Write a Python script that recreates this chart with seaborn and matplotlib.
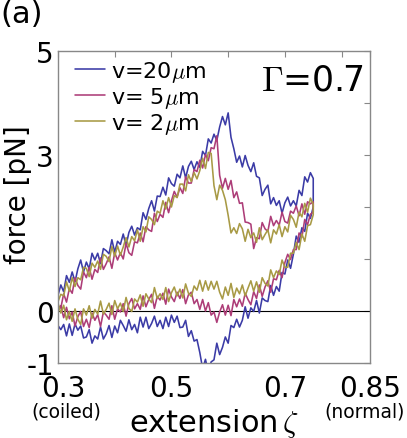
import matplotlib
matplotlib.use("Agg")
import matplotlib.pyplot as plt
import matplotlib.transforms as mtransforms
import seaborn as sns
import pandas as pd

sns.set_style("white")
plt.rcParams["font.family"] = ["DejaVu Sans"]
plt.rcParams["mathtext.fontset"] = "cm"
plt.rcParams["text.color"] = "black"

# extension grid of the outward sweep; the return sweep runs back over it
zeta = [0.300, 0.305, 0.310, 0.315, 0.320, 0.325, 0.330, 0.335, 0.340, 0.345,
        0.350, 0.355, 0.360, 0.365, 0.370, 0.375, 0.380, 0.385, 0.390, 0.395,
        0.400, 0.405, 0.410, 0.415, 0.420, 0.425, 0.430, 0.435, 0.440, 0.445,
        0.450, 0.455, 0.460, 0.465, 0.470, 0.475, 0.480, 0.485, 0.490, 0.495,
        0.500, 0.505, 0.510, 0.515, 0.520, 0.525, 0.530, 0.535, 0.540, 0.545,
        0.550, 0.555, 0.560, 0.565, 0.570, 0.575, 0.580, 0.585, 0.590, 0.595,
        0.600, 0.605, 0.610, 0.615, 0.620, 0.625, 0.630, 0.635, 0.640, 0.645,
        0.650, 0.655, 0.660, 0.665, 0.670, 0.675, 0.680, 0.685, 0.690, 0.695,
        0.700, 0.705, 0.710, 0.715, 0.720, 0.725, 0.730, 0.735, 0.740, 0.745,
        0.750]

# v = 20 um: outward (0.30 -> 0.75) and return (0.75 -> 0.30)
f20_out = [0.30, 0.50, 0.37, 0.68, 0.55, 0.75, 0.56, 0.81, 0.98, 0.75,
           0.94, 0.81, 1.11, 0.98, 1.11, 0.91, 1.20, 1.16, 1.10, 1.37,
           1.13, 1.34, 1.28, 1.48, 1.26, 1.51, 1.63, 1.46, 1.60, 1.56,
           1.89, 1.76, 1.97, 2.12, 1.92, 2.21, 2.20, 2.38, 2.23, 2.56,
           2.45, 2.40, 2.63, 2.56, 2.79, 2.56, 2.78, 2.88, 2.72, 2.87,
           2.76, 3.07, 2.99, 3.31, 3.23, 3.40, 3.28, 3.54, 3.74, 3.58,
           3.81, 3.34, 3.12, 2.86, 2.98, 2.77, 2.99, 2.80, 2.68, 2.85,
           2.59, 2.56, 2.22, 2.34, 2.42, 2.06, 2.18, 2.03, 2.12, 1.88,
           2.08, 2.19, 2.02, 2.12, 2.02, 2.32, 2.22, 2.58, 2.48, 2.66,
           2.55]
f20_back = [2.00, 1.78, 1.88, 1.53, 1.60, 1.32, 1.44, 1.09, 0.82, 0.98,
            0.71, 0.74, 0.38, 0.47, 0.30, 0.49, 0.18, 0.20, 0.25, -0.04,
            0.20, -0.01, 0.06, -0.14, 0.08, -0.18, -0.31, -0.16, -0.32, -0.28,
            -0.62, -0.50, -0.70, -0.84, -0.62, -0.94, -0.98, -1.18, -0.93, -1.11,
            -0.80, -0.55, -0.58, -0.38, -0.49, -0.18, -0.31, -0.32, -0.10, -0.22,
            -0.08, -0.30, -0.12, -0.34, -0.18, -0.30, -0.10, -0.24, -0.34, -0.12,
            -0.31, -0.12, -0.42, -0.26, -0.36, -0.17, -0.39, -0.28, -0.18, -0.42,
            -0.29, -0.51, -0.28, -0.44, -0.54, -0.31, -0.54, -0.48, -0.62, -0.36,
            -0.50, -0.52, -0.29, -0.37, -0.25, -0.47, -0.25, -0.48, -0.26, -0.36,
            -0.28]

# v = 5 um
f5_out = [0.10, 0.06, 0.33, 0.17, 0.43, 0.34, 0.64, 0.49, 0.42, 0.75,
          0.64, 0.84, 0.61, 0.80, 0.74, 1.02, 0.80, 0.91, 1.04, 0.82,
          1.12, 0.98, 1.12, 1.00, 1.30, 1.12, 1.07, 1.33, 1.31, 1.50,
          1.33, 1.62, 1.56, 1.53, 1.88, 1.72, 1.86, 1.80, 2.09, 1.89,
          2.12, 2.30, 2.19, 2.37, 2.26, 2.58, 2.46, 2.46, 2.72, 2.68,
          2.90, 2.75, 3.01, 2.89, 3.14, 3.12, 3.37, 2.61, 2.36, 2.55,
          2.34, 2.51, 2.18, 2.29, 2.07, 2.08, 1.71, 1.70, 1.67, 1.20,
          1.41, 1.39, 1.70, 1.58, 1.53, 1.82, 1.64, 1.74, 1.65, 1.90,
          1.72, 1.69, 1.92, 1.88, 2.02, 1.83, 2.06, 1.86, 2.10, 2.06,
          2.10]
f5_back = [1.90, 1.86, 1.66, 1.76, 1.42, 1.50, 1.18, 1.18, 0.99, 1.09,
           0.93, 0.64, 0.78, 0.60, 0.62, 0.36, 0.58, 0.46, 0.28, 0.50,
           0.24, 0.37, 0.12, 0.22, 0.34, 0.09, 0.23, 0.08, 0.22, -0.09,
           0.11, -0.08, 0.12, -0.02, -0.22, -0.02, -0.08, 0.16, 0.00, 0.22,
           0.03, 0.22, 0.14, 0.36, 0.31, 0.14, 0.41, 0.24, 0.36, 0.18,
           0.27, 0.42, 0.13, 0.34, 0.21, 0.28, 0.05, 0.32, 0.22, 0.08,
           0.29, 0.03, 0.14, 0.04, 0.24, 0.14, -0.10, 0.14, -0.02, 0.04,
           -0.16, 0.10, -0.16, -0.08, -0.02, -0.30, -0.07, -0.18, -0.04, -0.32,
           -0.16, -0.30, -0.01, -0.11, -0.29, -0.02, -0.15, 0.07, -0.13, 0.10,
           0.02]

# v = 2 um
f2_out = [0.18, 0.32, 0.29, 0.56, 0.38, 0.64, 0.47, 0.64, 0.60, 0.84,
          0.82, 0.66, 0.92, 0.84, 0.96, 0.80, 1.09, 1.05, 0.95, 1.24,
          1.05, 1.25, 1.07, 1.23, 1.41, 1.23, 1.43, 1.35, 1.56, 1.34,
          1.62, 1.52, 1.81, 1.76, 1.66, 1.92, 1.88, 2.12, 1.96, 2.18,
          2.00, 2.22, 2.18, 2.44, 2.44, 2.31, 2.62, 2.49, 2.66, 2.54,
          2.70, 2.94, 2.74, 3.05, 3.03, 2.41, 2.14, 2.42, 2.32, 2.14,
          1.84, 1.50, 1.60, 1.49, 1.68, 1.58, 1.34, 1.57, 1.41, 1.50,
          1.32, 1.60, 1.37, 1.47, 1.56, 1.31, 1.56, 1.48, 1.66, 1.43,
          1.62, 1.52, 1.84, 1.76, 1.61, 1.90, 1.81, 2.07, 1.90, 2.17,
          2.05]
f2_back = [1.85, 1.66, 1.64, 1.34, 1.48, 1.18, 1.32, 1.11, 1.11, 0.84,
           0.84, 0.98, 0.70, 0.77, 0.64, 0.79, 0.48, 0.53, 0.64, 0.36,
           0.56, 0.38, 0.58, 0.44, 0.29, 0.50, 0.33, 0.44, 0.26, 0.53,
           0.30, 0.46, 0.23, 0.36, 0.57, 0.42, 0.57, 0.40, 0.58, 0.38,
           0.59, 0.40, 0.48, 0.28, 0.34, 0.52, 0.25, 0.42, 0.29, 0.46,
           0.35, 0.18, 0.45, 0.22, 0.33, 0.24, 0.45, 0.16, 0.23, 0.33,
           0.09, 0.31, 0.17, 0.23, -0.01, 0.05, 0.26, -0.01, 0.15, 0.04,
           0.20, -0.07, 0.15, 0.03, -0.06, 0.19, -0.06, 0.03, -0.14, 0.10,
           -0.08, 0.04, -0.26, -0.16, 0.04, -0.20, -0.01, -0.17, 0.11, -0.04,
           0.15]

labels = [r"v=20$\mu$m", r"v= 5$\mu$m", r"v= 2$\mu$m"]
colors = ["#3b3ba6", "#ad3d78", "#a89a45"]

frames = []
for lab, out, back in zip(labels, [f20_out, f5_out, f2_out], [f20_back, f5_back, f2_back]):
    frames.append(pd.DataFrame({"zeta": zeta + zeta[::-1],
                                "force": out + back,
                                "v": lab}))
df = pd.concat(frames, ignore_index=True)

fig = plt.figure(figsize=(4.07, 4.39), dpi=100)
ax = fig.add_axes([0.1425, 0.171, 0.7665, 0.7105])

ax.axhline(0, color="black", lw=0.8, zorder=1)
sns.lineplot(data=df, x="zeta", y="force", hue="v", palette=dict(zip(labels, colors)),
             sort=False, estimator=None, lw=1.15, ax=ax)

ax.set_xlim(0.3, 0.85)
ax.set_ylim(-1, 5)
ax.set_xticks([0.3, 0.4, 0.5, 0.6, 0.7, 0.8, 0.85])
ax.set_xticklabels(["0.3", "", "0.5", "", "0.7", "", "0.85"])
ax.set_yticks([-1, 0, 1, 2, 3, 4, 5])
ax.set_yticklabels(["-1", "0", "", "", "3", "", "5"])
ax.tick_params(axis="both", direction="in", length=4, width=0.8, color="#888888",
               labelcolor="black", top=True, right=True, labelsize=20)
ax.tick_params(axis="x", pad=8)
ax.tick_params(axis="y", pad=3)
for s in ax.spines.values():
    s.set_color("#888888")
    s.set_linewidth(1.0)

# nudge the first x label right so it clears the left margin, as in the original
first = ax.get_xticklabels()[0]
first.set_transform(first.get_transform() +
                    mtransforms.ScaledTranslation(5 / 100, 0, fig.dpi_scale_trans))

ax.set_xlabel("")
ax.set_ylabel("")
fig.text(0.526, 0.036, r"extension$\,\zeta$", ha="center", va="center", fontsize=22)
fig.text(0.045, 0.556, "force [pN]", ha="center", va="center", rotation=90, fontsize=20)
fig.text(66 / 407, 1 - 412 / 439, "(coiled)", ha="center", va="center", fontsize=13.5)
fig.text(365 / 407, 1 - 412 / 439, "(normal)", ha="center", va="center", fontsize=13.5)
ax.text(0.978, 0.91, r"$\Gamma$=0.7", transform=ax.transAxes, ha="right", va="center",
        fontsize=25)
fig.text(0.0, 0.966, "(a)", ha="left", va="center", fontsize=22)

leg = ax.legend(loc="upper left", frameon=False, fontsize=16, handlelength=1.36,
                handletextpad=0.25, labelspacing=0.05, borderpad=0, borderaxespad=0,
                bbox_to_anchor=(0.054, 0.975))
for t in leg.get_texts():
    t.set_color("black")

fig.savefig("out.png", dpi=100)
